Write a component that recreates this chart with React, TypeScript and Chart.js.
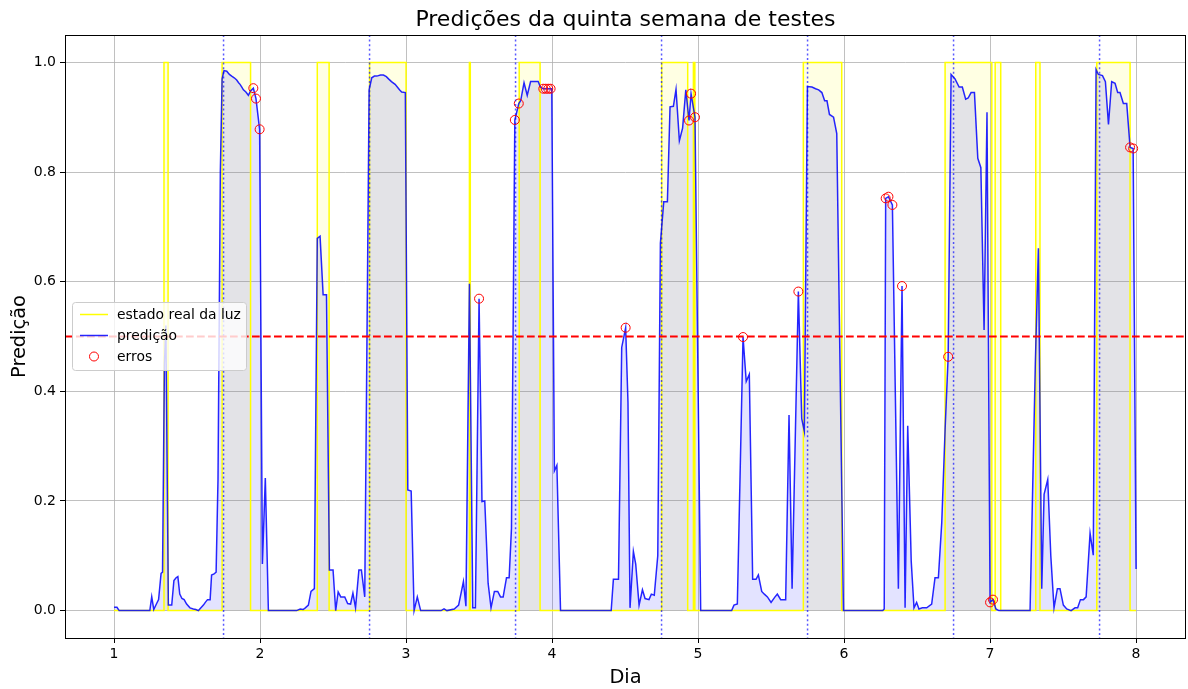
import React, { useEffect, useRef } from 'react';
import { Chart, registerables } from 'chart.js';

Chart.register(...registerables);

// ---- data ----
const chartTitle = 'Predições da quinta semana de testes';
const xLabel = 'Dia';
const yLabel = 'Predição';
const legendLabels = ['estado real da luz', 'predição', 'erros'];

const xTicks = [1, 2, 3, 4, 5, 6, 7, 8];
const yTicks = [0, 0.2, 0.4, 0.6, 0.8, 1.0];
const xMin = 0.664;
const xMax = 8.342;
const yMin = -0.05;
const yMax = 1.05;
const threshold = 0.5;
const dayMarks = [1.75, 2.75, 3.75, 4.75, 5.75, 6.75, 7.75];

// prediction: [day, value]
const predictionPoints: [number, number][] = [
  [1.0, 0.006], [1.02, 0.006], [1.035, 0], [1.245, 0], [1.258, 0.025], [1.272, 0.002], [1.29, 0.012], [1.305, 0.02],
  [1.322, 0.068], [1.332, 0.07], [1.345, 0.45], [1.355, 0.52], [1.372, 0.01], [1.395, 0.01], [1.41, 0.055], [1.425, 0.06],
  [1.437, 0.062], [1.45, 0.03], [1.465, 0.022], [1.48, 0.02], [1.497, 0.012], [1.52, 0.005], [1.543, 0.003], [1.56, 0.002],
  [1.578, 0], [1.595, 0.005], [1.612, 0.01], [1.625, 0.015], [1.64, 0.02], [1.658, 0.02], [1.668, 0.065], [1.685, 0.067],
  [1.699, 0.07], [1.712, 0.24], [1.728, 0.8], [1.74, 0.97], [1.753, 0.985], [1.772, 0.984], [1.79, 0.978], [1.806, 0.975],
  [1.823, 0.972], [1.84, 0.968], [1.853, 0.963], [1.863, 0.96], [1.875, 0.955], [1.886, 0.95], [1.903, 0.946], [1.92, 0.94],
  [1.935, 0.948], [1.954, 0.953], [1.972, 0.934], [1.997, 0.878], [2.016, 0.085], [2.036, 0.242], [2.057, 0],
  [2.25, 0], [2.275, 0.003], [2.295, 0.002], [2.31, 0.005], [2.331, 0.01], [2.349, 0.035], [2.372, 0.04], [2.392, 0.679],
  [2.411, 0.683], [2.432, 0.576], [2.455, 0.576], [2.475, 0.074], [2.5, 0.074], [2.518, 0], [2.535, 0.034], [2.553, 0.025],
  [2.58, 0.025], [2.6, 0.013], [2.62, 0.012], [2.636, 0.032], [2.654, 0.005], [2.677, 0.074], [2.694, 0.074], [2.717, 0.025],
  [2.747, 0.95], [2.765, 0.972], [2.783, 0.975], [2.8, 0.975], [2.825, 0.977], [2.845, 0.977], [2.865, 0.974], [2.88, 0.97],
  [2.9, 0.965], [2.925, 0.96], [2.94, 0.955], [2.955, 0.95], [2.97, 0.946], [2.995, 0.945], [3.012, 0.22], [3.035, 0.218],
  [3.055, 0], [3.077, 0.025], [3.1, 0], [3.24, 0], [3.26, 0.003], [3.28, 0], [3.33, 0.003], [3.36, 0.01],
  [3.393, 0.053], [3.41, 0.008], [3.434, 0.596], [3.457, 0.005], [3.475, 0.005], [3.5, 0.569], [3.52, 0.199], [3.539, 0.2],
  [3.562, 0.05], [3.582, 0.005], [3.605, 0.035], [3.628, 0.035], [3.647, 0.025], [3.665, 0.025], [3.688, 0.06], [3.706, 0.06],
  [3.722, 0.15], [3.745, 0.895], [3.772, 0.925], [3.785, 0.93], [3.808, 0.963], [3.83, 0.94], [3.853, 0.965], [3.88, 0.965],
  [3.905, 0.965], [3.92, 0.955], [3.94, 0.952], [3.957, 0.952], [3.974, 0.952], [3.99, 0.952], [3.998, 0.952], [4.016, 0.255],
  [4.033, 0.265], [4.058, 0],
  [4.405, 0], [4.42, 0.057], [4.455, 0.057], [4.477, 0.48], [4.504, 0.516], [4.52, 0.38], [4.534, 0.005], [4.557, 0.108],
  [4.573, 0.085], [4.596, 0.01], [4.619, 0.038], [4.637, 0.022], [4.664, 0.02], [4.68, 0.03], [4.7, 0.028], [4.724, 0.1],
  [4.742, 0.67], [4.765, 0.746], [4.79, 0.746], [4.808, 0.919], [4.831, 0.92], [4.849, 0.951], [4.872, 0.857], [4.894, 0.88],
  [4.916, 0.95], [4.938, 0.894], [4.952, 0.943], [4.979, 0.9], [5.018, 0],
  [5.23, 0], [5.246, 0.01], [5.269, 0.012], [5.308, 0.499], [5.33, 0.418], [5.351, 0.431], [5.374, 0.057], [5.397, 0.057],
  [5.413, 0.065], [5.436, 0.035], [5.454, 0.03], [5.475, 0.025], [5.5, 0.015], [5.527, 0.025], [5.543, 0.03], [5.566, 0.02],
  [5.6, 0.02], [5.623, 0.357], [5.644, 0.04], [5.687, 0.582], [5.71, 0.35], [5.728, 0.327], [5.749, 0.956], [5.78, 0.955],
  [5.805, 0.952], [5.826, 0.95], [5.848, 0.945], [5.867, 0.93], [5.883, 0.93], [5.9, 0.905], [5.928, 0.9], [5.95, 0.87],
  [5.996, 0],
  [6.265, 0], [6.275, 0.003], [6.285, 0.752], [6.304, 0.755], [6.331, 0.74], [6.372, 0.04], [6.397, 0.592], [6.418, 0.005],
  [6.436, 0.337], [6.46, 0.09], [6.479, 0.005], [6.497, 0.015], [6.513, 0.003], [6.536, 0.005], [6.566, 0.005], [6.6, 0.012],
  [6.623, 0.06], [6.646, 0.06], [6.669, 0.16], [6.692, 0.33], [6.713, 0.463], [6.733, 0.978], [6.76, 0.97], [6.788, 0.955],
  [6.81, 0.955], [6.833, 0.933], [6.85, 0.935], [6.87, 0.945], [6.893, 0.945], [6.916, 0.825], [6.937, 0.808], [6.959, 0.512],
  [6.979, 0.909], [7.0, 0.015], [7.02, 0.02],
  [7.04, 0.003], [7.06, 0], [7.274, 0], [7.31, 0.45], [7.331, 0.661], [7.354, 0.04], [7.37, 0.212], [7.395, 0.239],
  [7.416, 0.1], [7.438, 0.005], [7.461, 0.04], [7.479, 0.04], [7.502, 0.01], [7.525, 0.003], [7.555, 0], [7.582, 0.005],
  [7.6, 0.005], [7.619, 0.02], [7.64, 0.02], [7.658, 0.025], [7.685, 0.141], [7.707, 0.101], [7.726, 0.987], [7.742, 0.978],
  [7.77, 0.976], [7.79, 0.965], [7.811, 0.887], [7.833, 0.965], [7.856, 0.962], [7.874, 0.945], [7.89, 0.945], [7.913, 0.925],
  [7.936, 0.925], [7.959, 0.845], [7.98, 0.843], [8.0, 0.076],
];

// real light state: value holds from each day until the next
const stateDays = [1.0, 1.342, 1.37, 1.74, 1.935, 2.392, 2.473, 2.75, 3.0, 3.434, 3.44, 3.775, 3.918, 4.751, 4.929,
  4.968, 4.978, 5.721, 5.984, 6.692, 7.012, 7.035, 7.073, 7.313, 7.342, 7.731, 7.959, 8.0];
const stateValues = [0, 1, 0, 1, 0, 1, 0, 1, 0, 1, 0, 1, 0, 1, 0,
  1, 0, 1, 0, 1, 0, 1, 0, 1, 0, 1, 0, 0];

// errors
const errorDays = [1.954, 1.972, 1.997, 3.5, 3.745, 3.772, 3.94, 3.957, 3.974, 3.99, 4.504, 4.938, 4.952, 4.979,
  5.308, 5.687, 6.285, 6.304, 6.331, 6.397, 6.713, 7.0, 7.02, 7.959, 7.98];
const errorValues = [0.953, 0.934, 0.878, 0.569, 0.895, 0.925, 0.952, 0.952, 0.952, 0.952, 0.516, 0.894, 0.943, 0.9,
  0.499, 0.582, 0.752, 0.755, 0.74, 0.592, 0.463, 0.015, 0.02, 0.845, 0.843];

const FONT = '"DejaVu Sans", sans-serif';

const decorPlugin = {
  id: 'decor',
  afterDatasetsDraw(chart: any) {
    const { ctx, chartArea: a, scales } = chart;
    const x = scales.x;
    const y = scales.y;
    ctx.save();
    ctx.beginPath();
    ctx.rect(a.left, a.top, a.right - a.left, a.bottom - a.top);
    ctx.clip();
    ctx.strokeStyle = 'rgba(0,0,255,0.65)';
    ctx.lineWidth = 1.5;
    ctx.setLineDash([2, 2.6]);
    for (const d of dayMarks) {
      const px = x.getPixelForValue(d);
      ctx.beginPath();
      ctx.moveTo(px, a.top);
      ctx.lineTo(px, a.bottom);
      ctx.stroke();
    }
    ctx.strokeStyle = '#ff0000';
    ctx.lineWidth = 2;
    ctx.setLineDash([7.7, 3.3]);
    const py = y.getPixelForValue(threshold);
    ctx.beginPath();
    ctx.moveTo(a.left, py);
    ctx.lineTo(a.right, py);
    ctx.stroke();
    ctx.restore();
  },
  afterDraw(chart: any) {
    const { ctx, chartArea: a } = chart;
    ctx.save();
    // spines
    ctx.strokeStyle = '#000';
    ctx.lineWidth = 1;
    ctx.setLineDash([]);
    ctx.strokeRect(Math.round(a.left) + 0.5, Math.round(a.top) + 0.5, Math.round(a.right - a.left) - 1, Math.round(a.bottom - a.top));
    // title
    ctx.fillStyle = '#000';
    ctx.textAlign = 'center';
    ctx.textBaseline = 'alphabetic';
    ctx.font = `22px ${FONT}`;
    ctx.fillText(chartTitle, (a.left + a.right) / 2, 26);
    // x label
    ctx.font = `19.4px ${FONT}`;
    ctx.fillText(xLabel, (a.left + a.right) / 2, 683);
    // y label
    ctx.save();
    ctx.translate(25, (a.top + a.bottom) / 2);
    ctx.rotate(-Math.PI / 2);
    ctx.fillText(yLabel, 0, 0);
    ctx.restore();
    // legend
    const bx = 72.5, by = 302.5, bw = 174, bh = 68;
    ctx.beginPath();
    (ctx as any).roundRect(bx, by, bw, bh, 3);
    ctx.fillStyle = 'rgba(255,255,255,0.8)';
    ctx.fill();
    ctx.strokeStyle = '#cccccc';
    ctx.lineWidth = 1;
    ctx.stroke();
    const rows = [314.5, 335.5, 356.5];
    ctx.lineWidth = 1.5;
    ctx.strokeStyle = '#ffff00';
    ctx.beginPath(); ctx.moveTo(80, rows[0]); ctx.lineTo(108, rows[0]); ctx.stroke();
    ctx.strokeStyle = 'rgba(0,0,255,0.85)';
    ctx.beginPath(); ctx.moveTo(80, rows[1]); ctx.lineTo(108, rows[1]); ctx.stroke();
    ctx.strokeStyle = '#ff0000';
    ctx.lineWidth = 1;
    ctx.beginPath(); ctx.arc(94, rows[2], 4.5, 0, Math.PI * 2); ctx.stroke();
    ctx.fillStyle = '#000';
    ctx.font = `13.9px ${FONT}`;
    ctx.textAlign = 'left';
    ctx.textBaseline = 'middle';
    legendLabels.forEach((t, i) => ctx.fillText(t, 117, rows[i] + 0.5));
    ctx.restore();
  },
};

export default function App() {
  const ref = useRef<HTMLCanvasElement | null>(null);
  useEffect(() => {
    document.body.style.margin = '0';
    if (!ref.current) return;
    const chart = new Chart(ref.current, {
      type: 'line',
      data: {
        datasets: [
          {
            label: legendLabels[2],
            type: 'scatter',
            data: errorDays.map((d, i) => ({ x: d, y: errorValues[i] })),
            showLine: false,
            pointRadius: 4.5,
            pointStyle: 'circle',
            pointBorderColor: '#ff0000',
            pointBackgroundColor: 'rgba(0,0,0,0)',
            pointBorderWidth: 1,
            borderColor: '#ff0000',
            backgroundColor: 'rgba(0,0,0,0)',
            order: 1,
          } as any,
          {
            label: legendLabels[1],
            data: predictionPoints.map(([d, v]) => ({ x: d, y: v })),
            borderColor: 'rgba(0,0,255,0.85)',
            borderWidth: 1.5,
            pointRadius: 0,
            fill: 'origin',
            backgroundColor: 'rgba(0,0,255,0.11)',
            tension: 0,
            order: 2,
          },
          {
            label: legendLabels[0],
            data: stateDays.map((d, i) => ({ x: d, y: stateValues[i] })),
            borderColor: '#ffff00',
            borderWidth: 1.5,
            pointRadius: 0,
            stepped: 'before',
            fill: 'origin',
            backgroundColor: 'rgba(255,255,0,0.11)',
            order: 3,
          },
        ],
      },
      options: {
        responsive: false,
        animation: false,
        devicePixelRatio: 1,
        events: [],
        layout: { autoPadding: false, padding: { top: 35, right: 2, left: 0, bottom: 0 } },
        plugins: {
          legend: { display: false },
          title: { display: false },
          tooltip: { enabled: false },
          filler: { drawTime: 'beforeDatasetsDraw' },
        } as any,
        scales: {
          x: {
            type: 'linear',
            min: xMin,
            max: xMax,
            afterBuildTicks: (s: any) => { s.ticks = xTicks.map((v) => ({ value: v })); },
            afterFit: (s: any) => { s.height = 51; },
            grid: { color: '#b0b0b0', lineWidth: 0.8, tickLength: 5, tickColor: '#000', tickWidth: 1 },
            border: { display: false },
            ticks: {
              font: { family: FONT, size: 14 },
              color: '#000',
              padding: 3,
              maxRotation: 0,
              autoSkip: false,
              callback: (v: any) => String(v),
            },
          },
          y: {
            type: 'linear',
            min: yMin,
            max: yMax,
            afterBuildTicks: (s: any) => { s.ticks = yTicks.map((v) => ({ value: v })); },
            afterFit: (s: any) => { s.width = 65; },
            grid: { color: '#b0b0b0', lineWidth: 0.8, tickLength: 5, tickColor: '#000', tickWidth: 1 },
            border: { display: false },
            ticks: {
              font: { family: FONT, size: 14 },
              color: '#000',
              padding: 4,
              autoSkip: false,
              callback: (v: any) => Number(v).toFixed(1),
            },
          },
        },
      } as any,
      plugins: [decorPlugin],
    });
    return () => chart.destroy();
  }, []);
  return (
    <div style={{ width: 1188, height: 689 }}>
      <canvas ref={ref} width={1188} height={689} style={{ display: 'block' }} />
    </div>
  );
}
